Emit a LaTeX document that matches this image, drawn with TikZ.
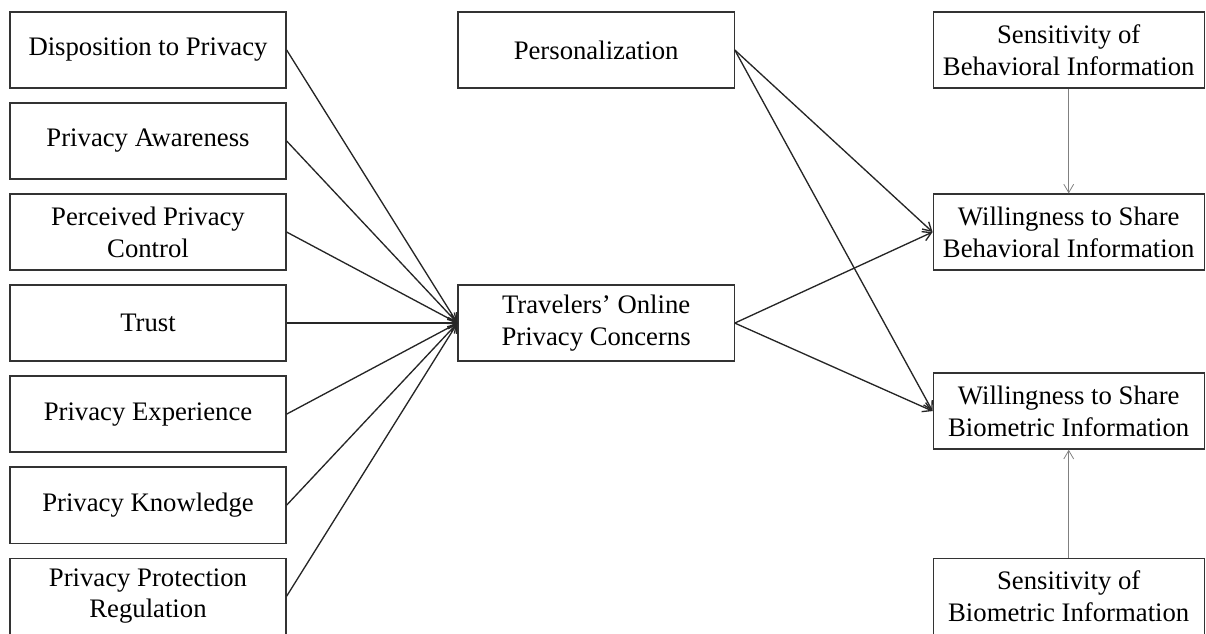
\documentclass[tikz,border=0pt]{standalone}
\usepackage{fontspec}
\setmainfont{Liberation Serif}
\usetikzlibrary{positioning,arrows.meta}

\begin{document}
\begin{tikzpicture}[x=0.025cm, y=-0.025cm, node distance=2.275cm, on grid, auto,
    factor/.style={draw=black!80, line width=0.9pt, minimum width=6.9cm, minimum height=1.9cm,
        inner sep=0pt, align=center, font=\fontsize{19}{22.5}\selectfont},
    outcome/.style={factor, minimum width=6.775cm},
    link/.style={->, line width=0.95pt, black!85},
    moderate/.style={->, line width=0.55pt, black!50},
    >={Straight Barb[length=6pt, width=7pt]}]

    \useasboundingbox (0,0) rectangle (1206,633);

    % antecedents
    \node[factor] (disp) at (148,50) {Disposition to Privacy};
    \node[factor] (aware) [below=of disp] {Privacy Awareness};
    \node[factor] (control) [below=of aware] {Perceived Privacy\\Control};
    \node[factor] (trust) [below=of control] {Trust};
    \node[factor] (exper) [below=of trust] {Privacy Experience};
    \node[factor] (know) [below=of exper] {Privacy Knowledge};
    \node[factor] (regul) [below=of know] {Privacy Protection\\Regulation};

    % middle column
    \node[factor] (pers) [right=11.2cm of disp] {Personalization};
    \node[factor] (trav) [right=11.2cm of trust] {Travelers' Online\\Privacy Concerns};

    % outcomes and moderators
    \node[outcome] (sbeh) [right=11.8125cm of pers] {Sensitivity of\\Behavioral Information};
    \node[outcome] (wbeh) [below=4.55cm of sbeh] {Willingness to Share\\Behavioral Information};
    \node[outcome] (wbio) [below=4.475cm of wbeh] {Willingness to Share\\Biometric Information};
    \node[outcome] (sbio) [below=4.625cm of wbio] {Sensitivity of\\Biometric Information};

    \foreach \n in {disp,aware,control,trust,exper,know,regul}
        \draw[link] (\n.east) -- (trav.west);

    \path[link]
        (pers.east) edge (wbeh.west)
        (pers.east) edge (wbio.west)
        (trav.east) edge (wbeh.west)
        (trav.east) edge (wbio.west);

    \path[moderate]
        (sbeh.south) edge (wbeh.north)
        (sbio.north) edge (wbio.south);

\end{tikzpicture}
\end{document}
